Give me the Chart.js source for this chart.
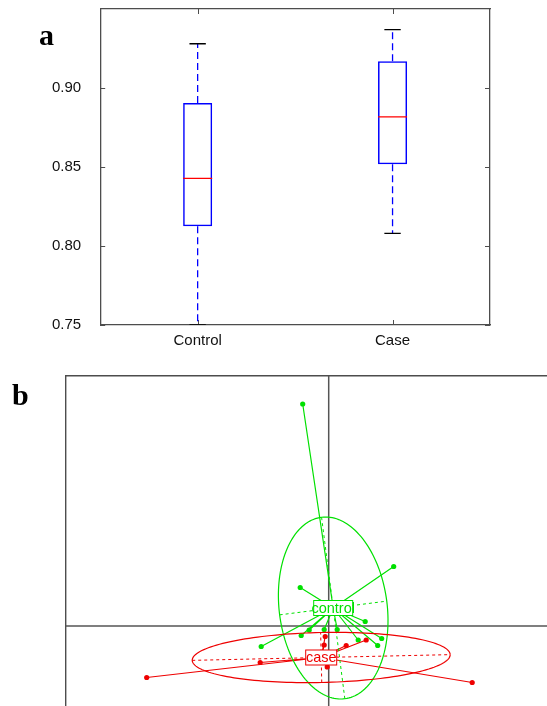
<!DOCTYPE html>
<html><head><meta charset="utf-8">
<script src="https://cdn.jsdelivr.net/npm/chart.js@4/dist/chart.umd.min.js"></script>
<style>
html,body{margin:0;padding:0;background:#fff;overflow:hidden;width:547px;height:706px;}
canvas{position:absolute;left:0;}
.panel{position:absolute;font-family:"Liberation Serif","Times New Roman",serif;font-weight:bold;font-size:30px;line-height:30px;color:#000;}
</style></head><body>
<canvas id="cA" width="547" height="360" style="top:0"></canvas>
<canvas id="cB" width="547" height="346" style="top:360px"></canvas>
<div class="panel" style="left:39px;top:20px">a</div>
<div class="panel" style="left:12px;top:380px">b</div>
<script>
// ---------- Panel a: boxplot data ----------
const categories = ['Control', 'Case'];
const whiskerLow  = [0.750, 0.808];
const quartile1   = [0.8125, 0.8517];
const medianVals  = [0.8428, 0.8817];
const quartile3   = [0.8905, 0.9169];
const whiskerHigh = [0.928, 0.937];
const yTickValues = [0.75, 0.80, 0.85, 0.90];

// ---------- Panel b: class scatter data ----------
const groupLabels = ['control', 'case'];
const controlX = [-0.52, 1.30, -0.57, 0.73, -0.39, -0.09, 0.17, -0.55, -1.35, 0.59, 1.06, 0.98];
const controlY = [4.44, 1.19, 0.77, 0.09, -0.08, -0.07, -0.07, -0.19, -0.41, -0.28, -0.25, -0.39];
const caseX = [-3.64, 2.87, -1.37, 0.35, 0.75, -0.07, -0.09, -0.03];
const caseY = [-1.03, -1.13, -0.73, -0.39, -0.28, -0.21, -0.38, -0.82];
const controlCenter = [0.09, 0.36];
const caseCenter = [-0.15, -0.63];
// ellipse: [half axis along u, half axis along v, rotation in degrees]
const controlEllipse = [1.08, 1.83, 7.3];
const caseEllipse = [2.58, 0.50, 1.27];

// ---------- styles ----------
const BOX_W = 0.149;     // box width in category units
const CAP_HALF = 0.042;  // whisker cap half width
const BLUE = '#0000ff', RED_A = '#ff0000';
const FRAME = '#4d4d4d';
const GREEN = '#00e000', RED = '#ee0000';
const sansFont = '"Liberation Sans", Arial, Helvetica, sans-serif';
const CLEAR = 'rgba(0,0,0,0)';

// ---------- Panel a ----------
const boxData = categories.map((c, i) => ({x: i + 1, y: [quartile1[i], quartile3[i]]}));
const whiskerData = [], capData = [], medData = [];
categories.forEach((c, i) => {
  const x = i + 1;
  whiskerData.push({x, y: quartile3[i]}, {x, y: whiskerHigh[i]}, {x, y: null},
                   {x, y: quartile1[i]}, {x, y: whiskerLow[i]}, {x, y: null});
  capData.push({x: x - CAP_HALF, y: whiskerHigh[i]}, {x: x + CAP_HALF, y: whiskerHigh[i]}, {x, y: null},
               {x: x - CAP_HALF, y: whiskerLow[i]}, {x: x + CAP_HALF, y: whiskerLow[i]}, {x, y: null});
  medData.push({x: x - BOX_W / 2, y: medianVals[i]}, {x: x + BOX_W / 2, y: medianVals[i]}, {x, y: null});
});

const borderA = {display: true, color: FRAME, width: 1.3};
const noGrid = {display: false, drawTicks: false};
const xTicksBuild = s => { s.ticks = categories.map((c, i) => ({value: i + 1})); };
const yTicksBuild = s => { s.ticks = yTickValues.map(v => ({value: v})); };

// small inward tick marks on all four sides, at the scales' own tick positions
const inwardTicks = {
  id: 'inwardTicks',
  beforeDatasetsDraw(chart) {
    const {ctx, chartArea: ca, scales} = chart;
    ctx.save();
    ctx.strokeStyle = FRAME; ctx.lineWidth = 1;
    ['x', 'x2'].forEach(id => {
      const s = scales[id]; const top = s.position === 'top';
      const e = top ? ca.top : ca.bottom; const d = top ? 5 : -5;
      s.ticks.forEach(t => {
        const p = Math.round(s.getPixelForValue(t.value)) + 0.5;
        ctx.beginPath(); ctx.moveTo(p, e); ctx.lineTo(p, e + d); ctx.stroke();
      });
    });
    ['y', 'y2'].forEach(id => {
      const s = scales[id]; const left = s.position === 'left';
      const e = left ? ca.left : ca.right; const d = left ? 5 : -5;
      s.ticks.forEach(t => {
        const p = Math.round(s.getPixelForValue(t.value)) + 0.5;
        ctx.beginPath(); ctx.moveTo(e, p); ctx.lineTo(e + d, p); ctx.stroke();
      });
    });
    ctx.restore();
  }
};

new Chart(document.getElementById('cA'), {
  type: 'bar',
  data: {
    datasets: [
      {type: 'bar', label: 'box', data: boxData, backgroundColor: CLEAR, borderColor: BLUE,
       borderWidth: 1.5, borderSkipped: false, barPercentage: BOX_W, categoryPercentage: 1, order: 3},
      {type: 'line', label: 'whiskers', data: whiskerData, borderColor: BLUE, borderWidth: 1.3,
       borderDash: [7, 4], pointRadius: 0, spanGaps: false, order: 4},
      {type: 'line', label: 'caps', data: capData, borderColor: '#000', borderWidth: 1.3,
       pointRadius: 0, spanGaps: false, order: 2},
      {type: 'line', label: 'median', data: medData, borderColor: RED_A, borderWidth: 1.3,
       pointRadius: 0, spanGaps: false, order: 1}
    ]
  },
  options: {
    responsive: false, animation: false, devicePixelRatio: 1,
    layout: {autoPadding: false, padding: {left: 52, right: 57, top: 9, bottom: 10}},
    plugins: {legend: {display: false}, tooltip: {enabled: false}},
    scales: {
      x: {type: 'linear', position: 'bottom', min: 0.5, max: 2.5, offset: false,
          afterBuildTicks: xTicksBuild,
          ticks: {callback: v => categories[Math.round(v) - 1], font: {family: sansFont, size: 15},
                  color: '#111', padding: 0, maxRotation: 0, autoSkip: false},
          grid: {display: true, drawOnChartArea: false, drawTicks: true, tickLength: 7, tickColor: CLEAR, offset: false},
          border: borderA},
      x2: {type: 'linear', position: 'top', min: 0.5, max: 2.5, offset: false,
           afterBuildTicks: xTicksBuild, ticks: {display: false}, grid: noGrid, border: borderA},
      y: {type: 'linear', position: 'left', min: 0.75, max: 0.95, beginAtZero: false,
          afterBuildTicks: yTicksBuild,
          ticks: {callback: v => Number(v).toFixed(2), font: {family: sansFont, size: 15},
                  color: '#111', padding: 0},
          grid: {display: true, drawOnChartArea: false, drawTicks: true, tickLength: 19, tickColor: CLEAR},
          border: borderA},
      y2: {type: 'linear', position: 'right', min: 0.75, max: 0.95, beginAtZero: false,
           afterBuildTicks: yTicksBuild, ticks: {display: false}, grid: noGrid, border: borderA}
    }
  },
  plugins: [inwardTicks]
});

// ---------- Panel b ----------
const X_MIN = -5.254, X_MAX = 4.366, Y_MIN = -1.6, Y_MAX = 5.0;
function starData(c, xs, ys) {
  const d = [];
  xs.forEach((v, i) => { d.push({x: c[0], y: c[1]}, {x: v, y: ys[i]}, {x: v, y: null}); });
  return d;
}
const pts = (xs, ys) => xs.map((v, i) => ({x: v, y: ys[i]}));

const groups = [
  {label: groupLabels[0], center: controlCenter, ell: controlEllipse, color: GREEN, boxW: 39},
  {label: groupLabels[1], center: caseCenter, ell: caseEllipse, color: RED, boxW: 31}
];

const classPlugin = {
  id: 'classPlugin',
  afterDatasetsDraw(chart) {
    const {ctx, chartArea: ca, scales: {x, y}} = chart;
    ctx.save();
    ctx.beginPath(); ctx.rect(ca.left, ca.top, ca.right - ca.left, ca.bottom - ca.top); ctx.clip();
    groups.forEach(g => {
      const [rx, ry, deg] = g.ell; const a = deg * Math.PI / 180; const c = g.center;
      const P = (u, v) => [x.getPixelForValue(c[0] + u * Math.cos(a) - v * Math.sin(a)),
                           y.getPixelForValue(c[1] + u * Math.sin(a) + v * Math.cos(a))];
      ctx.strokeStyle = g.color; ctx.lineWidth = 1.2; ctx.setLineDash([]);
      ctx.beginPath();
      for (let k = 0; k <= 160; k++) {
        const t = k / 160 * 2 * Math.PI; const p = P(rx * Math.cos(t), ry * Math.sin(t));
        if (k) ctx.lineTo(p[0], p[1]); else ctx.moveTo(p[0], p[1]);
      }
      ctx.stroke();
      ctx.setLineDash([3, 3]); ctx.lineWidth = 1;
      ctx.beginPath();
      let p = P(-rx, 0); ctx.moveTo(p[0], p[1]); p = P(rx, 0); ctx.lineTo(p[0], p[1]);
      p = P(0, -ry); ctx.moveTo(p[0], p[1]); p = P(0, ry); ctx.lineTo(p[0], p[1]);
      ctx.stroke();
      ctx.setLineDash([]);
    });
    groups.forEach(g => {
      const cx = x.getPixelForValue(g.center[0]), cy = y.getPixelForValue(g.center[1]);
      const w = g.boxW, h = 15;
      ctx.fillStyle = '#fff'; ctx.fillRect(cx - w / 2, cy - h / 2, w, h);
      ctx.strokeStyle = g.color; ctx.lineWidth = 1; ctx.strokeRect(cx - w / 2, cy - h / 2, w, h);
      ctx.fillStyle = g.color; ctx.font = '14.5px ' + sansFont;
      ctx.textAlign = 'center'; ctx.textBaseline = 'middle';
      ctx.fillText(g.label, cx, cy + 0.5);
    });
    ctx.restore();
  }
};

new Chart(document.getElementById('cB'), {
  type: 'scatter',
  data: {
    datasets: [
      {type: 'line', label: 'axes', showLine: true,
       data: [{x: X_MIN, y: 0}, {x: X_MAX, y: 0}, {x: 0, y: null}, {x: 0, y: Y_MIN}, {x: 0, y: Y_MAX}],
       borderColor: '#555', borderWidth: 1.5, pointRadius: 0, spanGaps: false, order: 20},
      {type: 'line', label: 'control links', showLine: true, data: starData(controlCenter, controlX, controlY),
       borderColor: GREEN, borderWidth: 1.2, pointRadius: 0, spanGaps: false, order: 8},
      {type: 'scatter', label: 'control', data: pts(controlX, controlY), backgroundColor: GREEN,
       borderWidth: 0, pointRadius: 2.6, order: 7},
      {type: 'line', label: 'case links', showLine: true, data: starData(caseCenter, caseX, caseY),
       borderColor: RED, borderWidth: 1.2, pointRadius: 0, spanGaps: false, order: 6},
      {type: 'scatter', label: 'case', data: pts(caseX, caseY), backgroundColor: RED,
       borderWidth: 0, pointRadius: 2.6, order: 5}
    ]
  },
  options: {
    responsive: false, animation: false, devicePixelRatio: 1,
    layout: {autoPadding: false, padding: {left: 66, right: 0, top: 16, bottom: 0}},
    plugins: {legend: {display: false}, tooltip: {enabled: false}},
    scales: {
      x: {type: 'linear', position: 'top', min: X_MIN, max: X_MAX,
          ticks: {display: false}, grid: {display: false, drawTicks: false},
          border: {display: true, color: FRAME, width: 1.4}},
      y: {type: 'linear', position: 'left', min: Y_MIN, max: Y_MAX,
          ticks: {display: false}, grid: {display: false, drawTicks: false},
          border: {display: true, color: FRAME, width: 1.4}}
    }
  },
  plugins: [classPlugin]
});
</script>
</body></html>
